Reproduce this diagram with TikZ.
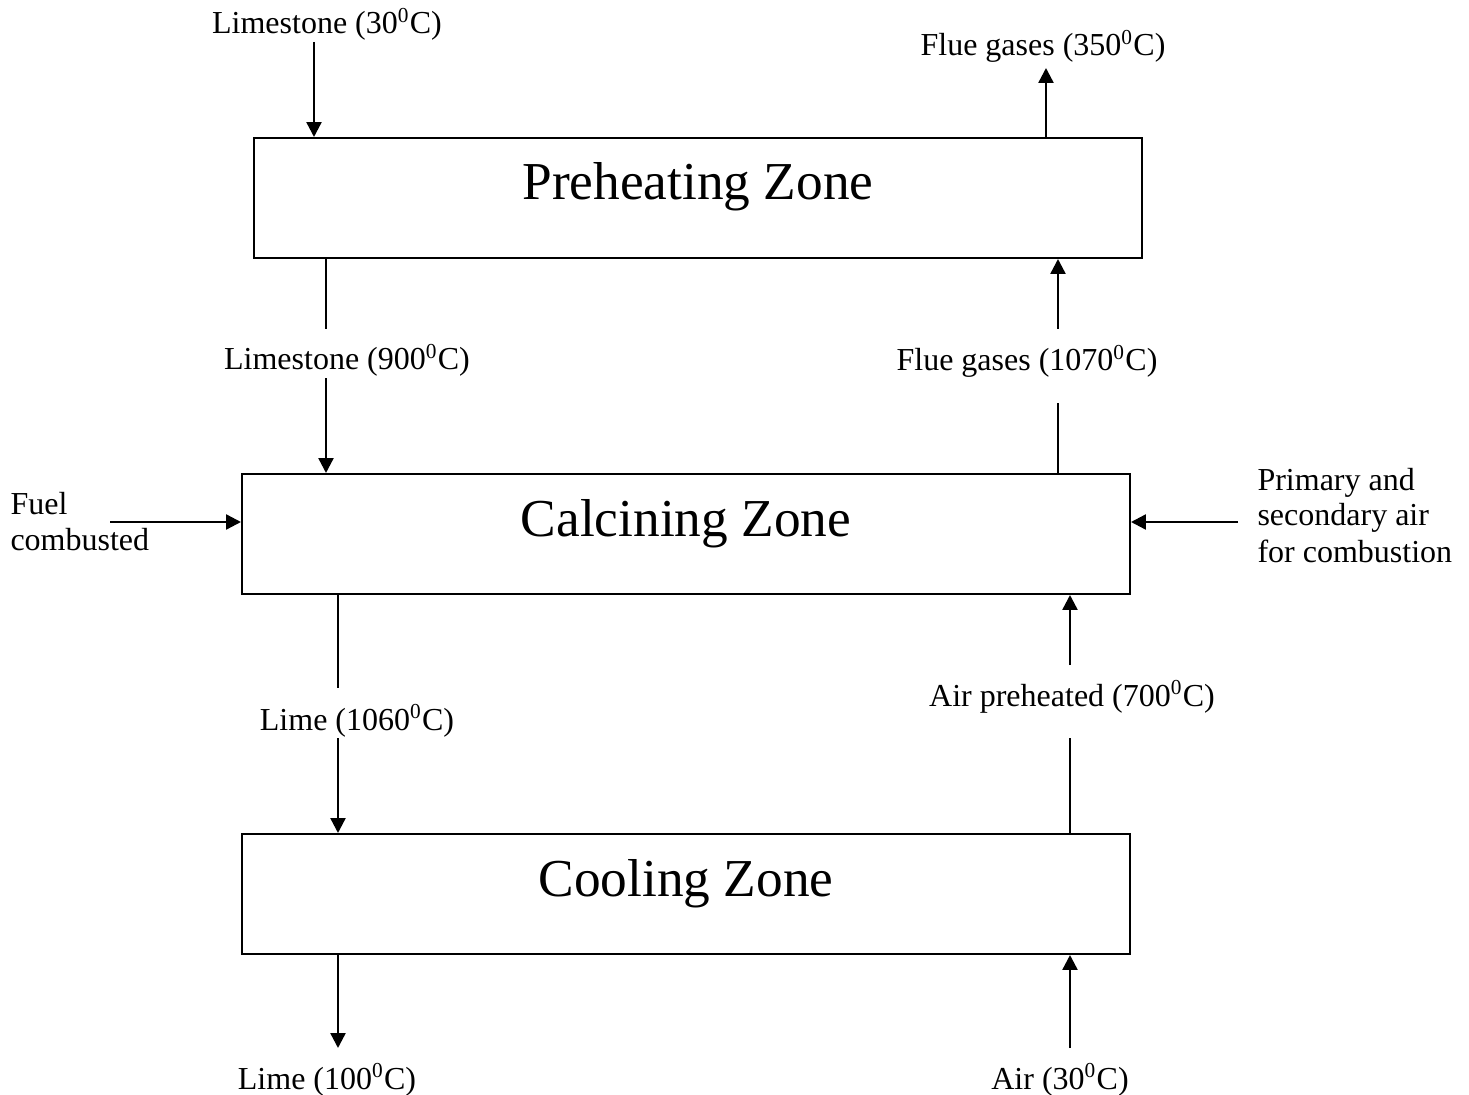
\documentclass[tikz,border=0pt]{standalone}
\usepackage{fontspec}
\setmainfont{Liberation Serif}
\usetikzlibrary{arrows.meta,positioning}

\tikzset{
  zone/.style={draw, line width=0.75pt, minimum width=333pt, minimum height=45pt, inner sep=0pt},
  zonetext/.style={font=\fontsize{20}{24}\selectfont, anchor=base, inner sep=0pt},
  tag/.style={font=\fontsize{12}{13.5}\selectfont, anchor=base, inner sep=0pt},
  flow/.style={-{Triangle[length=5.6pt,width=5.6pt]}, line width=0.9pt},
  pipe/.style={line width=0.9pt}
}

\begin{document}
\begin{tikzpicture}[x=0.375pt, y=-0.375pt]
  \useasboundingbox (0,0) rectangle (1469,1095);

  % the three zones of the kiln
  \node[zone] (pre) at (698,198) {};
  \node[zone] (cal) at (686,534) {};
  \node[zone] (coo) at (686,894) {};
  \node[zonetext] (preT) at (698,200) {Preheating Zone};
  \node[zonetext] (calT) at (686,536) {Calcining Zone};
  \node[zonetext] (cooT) at (686,896) {Cooling Zone};

  % stream labels
  \node[tag] (ls30) at (327,34) {Limestone (30\textsuperscript{0}C)};
  \node[tag] (fg350) at (1043,56) {Flue gases (350\textsuperscript{0}C)};
  \node[tag] (ls900) at (347,370) {Limestone (900\textsuperscript{0}C)};
  \node[tag] (fg1070) at (1027,371) {Flue gases (1070\textsuperscript{0}C)};
  \node[tag] (lm1060) at (357,730) {Lime (1060\textsuperscript{0}C)};
  \node[tag] (air700) at (1072,706) {Air preheated (700\textsuperscript{0}C)};
  \node[tag] (lm100) at (327,1089) {Lime (100\textsuperscript{0}C)};
  \node[tag] (air30) at (1060,1089) {Air (30\textsuperscript{0}C)};
  \node[tag, anchor=base west, align=left] (fuel) at (10,550) {Fuel\\combusted};
  \node[tag, anchor=base west, align=left] (comb) at (1257,562) {Primary and\\secondary air\\for combustion};

  % free ends of the streams
  \coordinate (inLs) at (314,42);
  \coordinate (outFg) at (1046,68);
  \coordinate (ls900a) at (326,329);
  \coordinate (ls900b) at (326,378);
  \coordinate (fg1070a) at (1058,329);
  \coordinate (fg1070b) at (1058,403);
  \coordinate (inFuel) at (110,522);
  \coordinate (inComb) at (1238,522);
  \coordinate (lm1060a) at (338,688);
  \coordinate (lm1060b) at (338,738);
  \coordinate (air700a) at (1070,665);
  \coordinate (air700b) at (1070,738);
  \coordinate (outLm) at (338,1048);
  \coordinate (inAir) at (1070,1048);

  % solids going down
  \draw[flow] (inLs) -- (inLs |- pre.north);
  \draw[pipe] (pre.south -| ls900a) -- (ls900a);
  \draw[flow] (ls900b) -- (ls900b |- cal.north);
  \draw[pipe] (cal.south -| lm1060a) -- (lm1060a);
  \draw[flow] (lm1060b) -- (lm1060b |- coo.north);
  \draw[flow] (coo.south -| outLm) -- (outLm);

  % gases going up
  \draw[flow] (inAir) -- (inAir |- coo.south);
  \draw[pipe] (coo.north -| air700b) -- (air700b);
  \draw[flow] (air700a) -- (air700a |- cal.south);
  \draw[pipe] (cal.north -| fg1070b) -- (fg1070b);
  \draw[flow] (fg1070a) -- (fg1070a |- pre.south);
  \draw[flow] (pre.north -| outFg) -- (outFg);

  % fuel and air fed from the sides
  \draw[flow] (inFuel) -- (inFuel -| cal.west);
  \draw[flow] (inComb) -- (inComb -| cal.east);
\end{tikzpicture}
\end{document}
